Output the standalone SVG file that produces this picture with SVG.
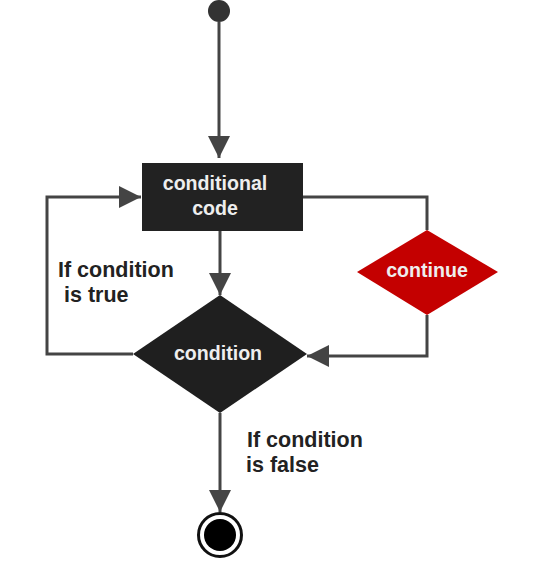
<svg xmlns="http://www.w3.org/2000/svg" width="539" height="567" viewBox="0 0 539 567">
<defs>
<style>
.ln{fill:none;stroke:#444;stroke-width:3}
.lbl{font-family:"Liberation Sans",Arial,sans-serif;font-weight:bold;font-size:21.5px;fill:#222}
.in{font-family:"Liberation Sans",Arial,sans-serif;font-weight:bold;font-size:19.6px;fill:#eee;text-anchor:middle}
</style>
<marker id="ah" markerUnits="userSpaceOnUse" markerWidth="24" markerHeight="24" refX="22" refY="11" orient="auto">
<path d="M0,0 L22,11 L0,22 z" fill="#444"/>
</marker>
</defs>
<rect width="539" height="567" fill="#fff"/>
<g id="connectors">
<path class="ln" d="M219,22 V158" marker-end="url(#ah)"/>
<path class="ln" d="M220,231 V295" marker-end="url(#ah)"/>
<path class="ln" d="M133,354 H47 V197 H141" marker-end="url(#ah)"/>
<path class="ln" d="M303,197 H427 V230"/>
<path class="ln" d="M427,315 V356 H307" marker-end="url(#ah)"/>
<path class="ln" d="M220,413 V512" marker-end="url(#ah)"/>
</g>
<g id="start"><circle cx="219" cy="11" r="11" fill="#333"/></g>
<g id="code">
<rect x="142" y="163" width="161" height="68" fill="#222"/>
<text class="in" x="215" y="190">conditional</text>
<text class="in" x="215" y="215">code</text>
</g>
<g id="condition">
<polygon points="220,295 307,354 220,413 133,354" fill="#1f1f1f"/>
<text class="in" x="218" y="360">condition</text>
</g>
<g id="continue">
<polygon points="427,230 498,272 427,315 357,272" fill="#c40000"/>
<text class="in" x="427" y="277">continue</text>
</g>
<g id="end">
<circle cx="220" cy="535" r="21.5" fill="#fff" stroke="#111" stroke-width="3"/>
<circle cx="220" cy="535" r="16" fill="#000"/>
</g>
<g id="labels">
<text class="lbl" x="58" y="277">If condition</text>
<text class="lbl" x="64" y="302">is true</text>
<text class="lbl" x="247" y="447">If condition</text>
<text class="lbl" x="246" y="472">is false</text>
</g>
</svg>
